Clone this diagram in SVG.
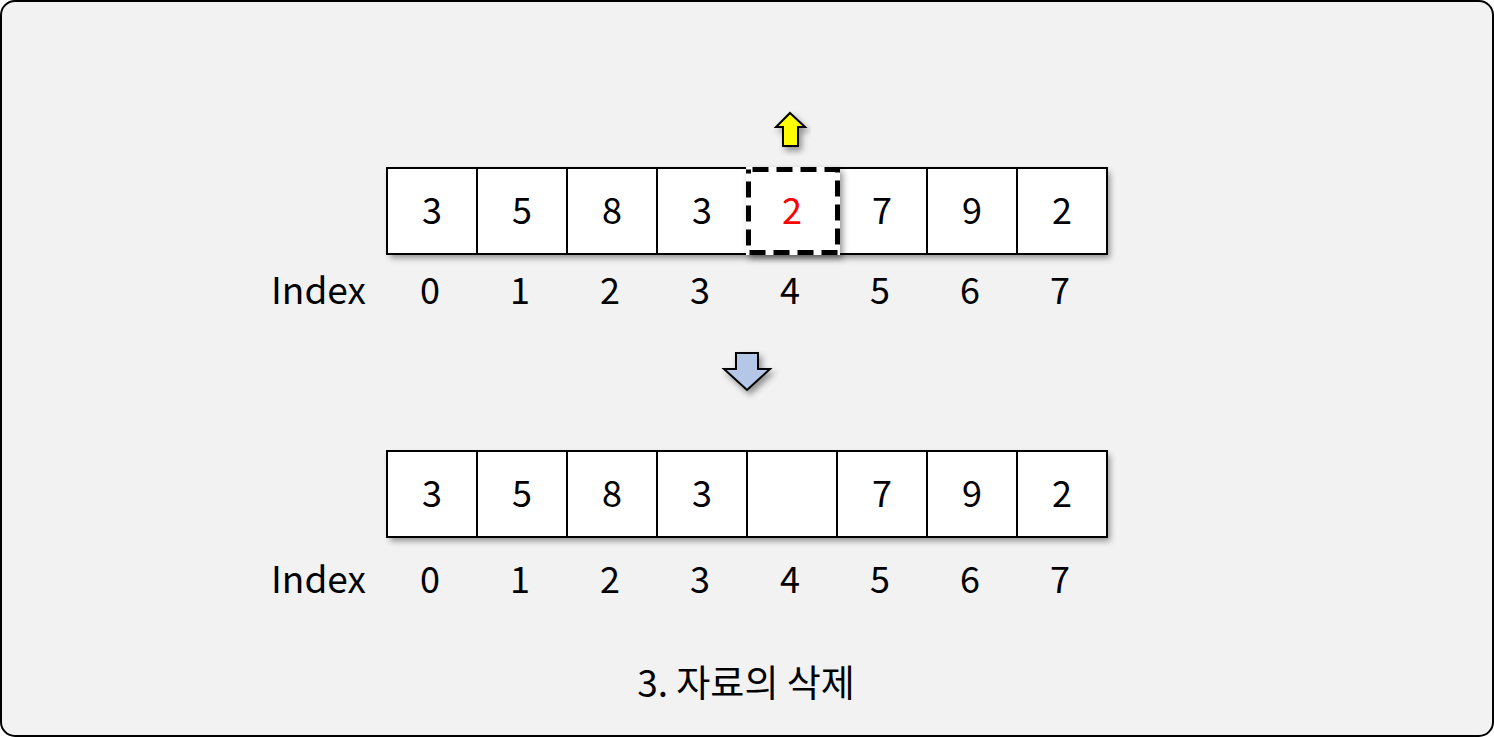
<svg xmlns="http://www.w3.org/2000/svg" width="1494" height="737" viewBox="0 0 1494 737">
<style>
.cell{fill:#fff;stroke:#000;stroke-width:2}
.t{font-family:"Noto Sans CJK KR","Noto Sans",sans-serif;font-size:36px;fill:#000;text-anchor:middle}
.lbl{font-family:"Noto Sans CJK KR","Noto Sans",sans-serif;font-size:37px;fill:#000}
</style>
<defs>
<filter id="sh" x="-20%" y="-20%" width="140%" height="150%">
<feDropShadow dx="3" dy="4" stdDeviation="3" flood-color="#000" flood-opacity="0.4"/>
</filter>
</defs>
<rect x="1" y="1" width="1492" height="735" rx="14" fill="#f2f2f2" stroke="#000" stroke-width="2"/>
<g id="row1">
<rect x="387" y="168" width="720" height="86" fill="#fff" filter="url(#sh)"/>
<g id="r1c0"><rect class="cell" x="387" y="168" width="90" height="86"/><text class="t" x="432" y="224">3</text></g>
<g id="r1c1"><rect class="cell" x="477" y="168" width="90" height="86"/><text class="t" x="522" y="224">5</text></g>
<g id="r1c2"><rect class="cell" x="567" y="168" width="90" height="86"/><text class="t" x="612" y="224">8</text></g>
<g id="r1c3"><rect class="cell" x="657" y="168" width="90" height="86"/><text class="t" x="702" y="224">3</text></g>
<g id="r1c5"><rect class="cell" x="837" y="168" width="90" height="86"/><text class="t" x="882" y="224">7</text></g>
<g id="r1c6"><rect class="cell" x="927" y="168" width="90" height="86"/><text class="t" x="972" y="224">9</text></g>
<g id="r1c7"><rect class="cell" x="1017" y="168" width="90" height="86"/><text class="t" x="1062" y="224">2</text></g>
<g id="r1c4">
<rect x="748.5" y="169.5" width="89" height="83" fill="#fff" stroke="#fff" stroke-width="5" filter="url(#sh)"/>
<rect x="748.5" y="169.5" width="89" height="83" fill="none" stroke="#000" stroke-width="5" stroke-dasharray="16 8" stroke-dashoffset="-4"/>
<text class="t" x="792" y="224" style="fill:#ff0000">2</text>
</g>
</g>
<g id="idx1">
<text class="lbl" x="271" y="304">Index</text>
<text class="t" x="430" y="304">0</text>
<text class="t" x="520" y="304">1</text>
<text class="t" x="610" y="304">2</text>
<text class="t" x="700" y="304">3</text>
<text class="t" x="790" y="304">4</text>
<text class="t" x="880" y="304">5</text>
<text class="t" x="970" y="304">6</text>
<text class="t" x="1060" y="304">7</text>
</g>
<g id="arrows">
<path id="up-arrow" d="M790,113 L805,127 L798,127 L798,146 L783,146 L783,127 L776,127 Z" fill="#ffff00" stroke="#000" stroke-width="2" filter="url(#sh)"/>
<path id="down-arrow" d="M736,353 L758,353 L758,369 L770,369 L747,390 L724,369 L736,369 Z" fill="#b4c7e7" stroke="#000" stroke-width="2" filter="url(#sh)"/>
</g>
<g id="row2">
<rect x="387" y="451" width="720" height="86" fill="#fff" filter="url(#sh)"/>
<g id="r2c0"><rect class="cell" x="387" y="451" width="90" height="86"/><text class="t" x="432" y="507">3</text></g>
<g id="r2c1"><rect class="cell" x="477" y="451" width="90" height="86"/><text class="t" x="522" y="507">5</text></g>
<g id="r2c2"><rect class="cell" x="567" y="451" width="90" height="86"/><text class="t" x="612" y="507">8</text></g>
<g id="r2c3"><rect class="cell" x="657" y="451" width="90" height="86"/><text class="t" x="702" y="507">3</text></g>
<g id="r2c4"><rect class="cell" x="747" y="451" width="90" height="86"/></g>
<g id="r2c5"><rect class="cell" x="837" y="451" width="90" height="86"/><text class="t" x="882" y="507">7</text></g>
<g id="r2c6"><rect class="cell" x="927" y="451" width="90" height="86"/><text class="t" x="972" y="507">9</text></g>
<g id="r2c7"><rect class="cell" x="1017" y="451" width="90" height="86"/><text class="t" x="1062" y="507">2</text></g>
</g>
<g id="idx2">
<text class="lbl" x="271" y="593">Index</text>
<text class="t" x="430" y="593">0</text>
<text class="t" x="520" y="593">1</text>
<text class="t" x="610" y="593">2</text>
<text class="t" x="700" y="593">3</text>
<text class="t" x="790" y="593">4</text>
<text class="t" x="880" y="593">5</text>
<text class="t" x="970" y="593">6</text>
<text class="t" x="1060" y="593">7</text>
</g>
<text id="caption" class="t" x="746" y="697" style="font-size:37px">3. 자료의 삭제</text>
</svg>
